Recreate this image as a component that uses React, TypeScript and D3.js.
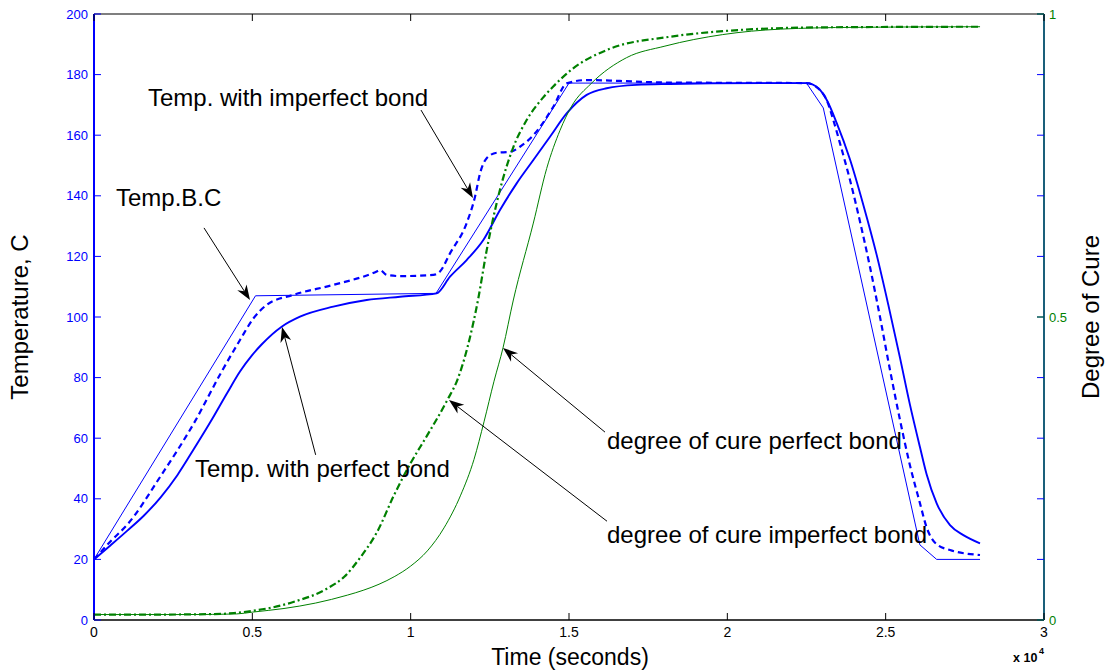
import React from "react";
import * as d3 from "d3";

// ---------- data ----------
const xTickValues = [0, 5000, 10000, 15000, 20000, 25000, 30000];
const xTickLabels = ["0", "0.5", "1", "1.5", "2", "2.5", "3"];
const tempTicks = [0, 20, 40, 60, 80, 100, 120, 140, 160, 180, 200];
const cureTicks = [0, 0.5, 1];
const cureTickLabels = ["0", "0.5", "1"];

// Temperature boundary condition (thin solid)
const bcTime = [0, 5100, 10800, 15000, 22500, 23030, 26080, 26610, 27980];
const bcTemp = [20, 107, 107.8, 177.2, 177.2, 169, 24.8, 20, 20];

// Temperature with perfect bond (solid)
const perfTime = [0, 526, 1053, 1579, 2105, 2632, 3158, 3684, 4210, 4610, 5000, 5300, 5926, 6505, 7557, 8610, 9663, 10821, 11242, 11768, 12295, 12821, 13347, 13874, 14400, 14926, 15558, 16190, 17137, 18190, 19500, 22500, 22875, 23140, 23455, 23874, 24295, 24716, 25084, 25453, 25768, 26084, 26295, 26611, 27032, 27453, 27979];
const perfTemp = [20, 24.7, 29.5, 34.5, 40.5, 47.8, 56.5, 65.5, 75, 82, 87.5, 91, 96.8, 100.1, 103.4, 105.6, 106.7, 107.8, 113.3, 118.8, 125.4, 135.3, 144.1, 151.8, 159.5, 167.2, 173.3, 175.5, 176.6, 176.9, 177.1, 177.2, 175.5, 171.6, 164, 152, 137, 120.5, 104, 86.5, 71, 57, 48, 38.5, 31.3, 28, 25.3];

// Temperature with imperfect bond (dashed)
const impTime = [0, 526, 1053, 2105, 3158, 4032, 4610, 5031, 5452, 6294, 7557, 8928, 9032, 9243, 9663, 10716, 10926, 11242, 11768, 12032, 12190, 12400, 12716, 13137, 13452, 13874, 14505, 14926, 15558, 16610, 18000, 22500, 22926, 23137, 23347, 23558, 23874, 24189, 24505, 24821, 25137, 25453, 25768, 26084, 26295, 26611, 27032, 27979];
const impTemp = [20, 26, 31.5, 47.5, 65, 82, 92.4, 99.5, 104, 107.3, 110.6, 115, 115.5, 113.9, 113.5, 113.9, 115, 121, 131, 139.7, 147.4, 152.4, 154.2, 154.5, 156.2, 160, 169.4, 177.1, 178.2, 177.9, 177.4, 177.2, 174.9, 171.6, 165, 157.3, 145.2, 131.5, 116.5, 100, 82.5, 66, 51, 38.5, 30.5, 25, 23.1, 21.45];

// Degree of cure, imperfect bond (dash-dot)
const cureImpTime = [0, 2000, 4000, 4500, 5000, 6316, 7368, 7895, 8421, 8947, 9474, 10000, 10526, 11158, 11473, 12126, 12400, 12820, 13240, 13663, 14180, 14495, 15100, 16310, 18130, 19937, 22960, 27980];
const cureImp = [0.009, 0.009, 0.01, 0.012, 0.015, 0.03, 0.052, 0.071, 0.104, 0.146, 0.206, 0.259, 0.305, 0.363, 0.396, 0.528, 0.61, 0.71, 0.78, 0.825, 0.862, 0.88, 0.909, 0.943, 0.962, 0.972, 0.978, 0.979];

// Degree of cure, perfect bond (thin solid)
const curePerfTime = [0, 3000, 4500, 5000, 6000, 7000, 8000, 8500, 9000, 9500, 10000, 10526, 11053, 11579, 12000, 12316, 12632, 12916, 13242, 13874, 14295, 14716, 15084, 15695, 16820, 18030, 19850, 21670, 24000, 27980];
const curePerf = [0.009, 0.009, 0.01, 0.013, 0.019, 0.028, 0.041, 0.049, 0.059, 0.072, 0.089, 0.114, 0.152, 0.206, 0.265, 0.327, 0.394, 0.449, 0.528, 0.655, 0.745, 0.808, 0.848, 0.885, 0.928, 0.947, 0.966, 0.975, 0.978, 0.979];

// Annotations (data coordinates)
const tempLabels = [
  { text: "Temp. with imperfect bond", t: 1705, v: 169.6 },
  { text: "Temp.B.C", t: 695, v: 136.6 },
  { text: "Temp. with perfect bond", t: 3190, v: 47.2 },
];
const cureLabels = [
  { text: "degree of cure perfect bond", t: 16200, v: 0.282 },
  { text: "degree of cure imperfect bond", t: 16200, v: 0.127 },
];
const tempArrows = [
  { t0: 10326, v0: 168.3, t1: 11968, v1: 139.3 },
  { t0: 3474, v0: 129.4, t1: 4926, v1: 105.6 },
  { t0: 7000, v0: 54.5, t1: 5937, v1: 96.7 },
];
const cureArrows = [
  { t0: 16137, v0: 0.31, t1: 12916, v1: 0.449 },
  { t0: 16200, v0: 0.163, t1: 11210, v1: 0.363 },
];

// ---------- layout ----------
const W = 1110;
const H = 671;
const L = 94;
const R = 1044;
const T = 14;
const B = 620;
const FONT = "'Liberation Sans', Arial, Helvetica, sans-serif";
const BLUE = "#0000ff";
const GREEN = "#008000";

const x = d3.scaleLinear().domain([0, 30000]).range([L, R]);
const yT = d3.scaleLinear().domain([0, 200]).range([B, T]);
const yC = d3.scaleLinear().domain([0, 1]).range([B, T]);

function series(ts: number[], vs: number[]) {
  return ts.map((t, i) => [t, vs[i]] as [number, number]);
}

const tempLine = (curve: d3.CurveFactory) =>
  d3.line<[number, number]>().x((d) => x(d[0])).y((d) => yT(d[1])).curve(curve);
const cureLine = d3
  .line<[number, number]>()
  .x((d) => x(d[0]))
  .y((d) => yC(d[1]))
  .curve(d3.curveMonotoneX);

function Arrow({ x0, y0, x1, y1 }: { x0: number; y0: number; x1: number; y1: number }) {
  const dx = x1 - x0;
  const dy = y1 - y0;
  const len = Math.sqrt(dx * dx + dy * dy);
  const ux = dx / len;
  const uy = dy / len;
  const nx = -uy;
  const ny = ux;
  const hl = 15;
  const hw = 5.5;
  const p1 = [x1 - hl * ux + hw * nx, y1 - hl * uy + hw * ny];
  const p2 = [x1 - hl * 0.7 * ux, y1 - hl * 0.7 * uy];
  const p3 = [x1 - hl * ux - hw * nx, y1 - hl * uy - hw * ny];
  return (
    <g>
      <line x1={x0} y1={y0} x2={p2[0]} y2={p2[1]} stroke="#000" strokeWidth={1} />
      <polygon
        points={`${x1},${y1} ${p1[0]},${p1[1]} ${p2[0]},${p2[1]} ${p3[0]},${p3[1]}`}
        fill="#000"
      />
    </g>
  );
}

export default function App() {
  const tick = 7;
  return (
    <svg
      width={W}
      height={H}
      style={{ position: "absolute", left: 0, top: 0, background: "#fff" }}
      fontFamily={FONT}
    >
      <rect x={0} y={0} width={W} height={H} fill="#fff" />

      {/* data lines */}
      <path d={tempLine(d3.curveLinear)(series(bcTime, bcTemp)) || ""} fill="none" stroke={BLUE} strokeWidth={1} />
      <path d={tempLine(d3.curveMonotoneX)(series(perfTime, perfTemp)) || ""} fill="none" stroke={BLUE} strokeWidth={1.9} />
      <path d={tempLine(d3.curveMonotoneX)(series(impTime, impTemp)) || ""} fill="none" stroke={BLUE} strokeWidth={2.2} strokeDasharray="6,4" />
      <path d={cureLine(series(curePerfTime, curePerf)) || ""} fill="none" stroke={GREEN} strokeWidth={1} />
      <path d={cureLine(series(cureImpTime, cureImp)) || ""} fill="none" stroke={GREEN} strokeWidth={2.2} strokeDasharray="7,3,2,3" />

      {/* frame */}
      <line x1={L} y1={T} x2={R} y2={T} stroke="#000" strokeWidth={1.2} />
      <line x1={L} y1={B} x2={R} y2={B} stroke="#000" strokeWidth={1.5} />
      <line x1={L} y1={T} x2={L} y2={B} stroke={BLUE} strokeWidth={2} />
      <line x1={R} y1={T} x2={R} y2={B} stroke="#1a5f7a" strokeWidth={2} />

      {/* x ticks */}
      {xTickValues.map((v, i) => (
        <g key={"x" + i}>
          <line x1={x(v)} y1={B} x2={x(v)} y2={B - tick} stroke="#000" />
          <line x1={x(v)} y1={T} x2={x(v)} y2={T + tick} stroke="#000" />
          <text x={x(v)} y={B + 17} textAnchor="middle" fontSize={14} fill="#000">
            {xTickLabels[i]}
          </text>
        </g>
      ))}
      <text x={1013} y={662} fontSize={12.5} fill="#000" fontWeight="bold">
        x 10
      </text>
      <text x={1039} y={654} fontSize={9} fill="#000" fontWeight="bold">
        4
      </text>

      {/* temperature ticks */}
      {tempTicks.map((v, i) => (
        <g key={"t" + i}>
          <line x1={L} y1={yT(v)} x2={L + tick} y2={yT(v)} stroke={BLUE} />
          <line x1={R} y1={yT(v)} x2={R - tick} y2={yT(v)} stroke={BLUE} />
          <text x={L - 6} y={yT(v)} dy="0.35em" textAnchor="end" fontSize={13} fill={BLUE}>
            {String(v)}
          </text>
        </g>
      ))}

      {/* cure ticks */}
      {cureTicks.map((v, i) => (
        <g key={"c" + i}>
          <line x1={R} y1={yC(v)} x2={R - tick} y2={yC(v)} stroke={GREEN} />
          <text x={R + 5} y={yC(v)} dy="0.35em" textAnchor="start" fontSize={13} fill={GREEN}>
            {cureTickLabels[i]}
          </text>
        </g>
      ))}

      {/* axis titles */}
      <text
        transform={`translate(28,${(T + B) / 2}) rotate(-90)`}
        textAnchor="middle"
        fontSize={24}
        fill="#000"
      >
        Temperature, C
      </text>
      <text
        transform={`translate(1099,${(T + B) / 2}) rotate(-90)`}
        textAnchor="middle"
        fontSize={24}
        fill="#000"
      >
        Degree of Cure
      </text>
      <text x={570} y={665} textAnchor="middle" fontSize={23} fill="#000">
        Time (seconds)
      </text>

      {/* annotations */}
      {tempLabels.map((a, i) => (
        <text key={"tl" + i} x={x(a.t)} y={yT(a.v)} fontSize={24} fill="#000">
          {a.text}
        </text>
      ))}
      {cureLabels.map((a, i) => (
        <text key={"cl" + i} x={x(a.t)} y={yC(a.v)} fontSize={24} fill="#000">
          {a.text}
        </text>
      ))}
      {tempArrows.map((a, i) => (
        <Arrow key={"ta" + i} x0={x(a.t0)} y0={yT(a.v0)} x1={x(a.t1)} y1={yT(a.v1)} />
      ))}
      {cureArrows.map((a, i) => (
        <Arrow key={"ca" + i} x0={x(a.t0)} y0={yC(a.v0)} x1={x(a.t1)} y1={yC(a.v1)} />
      ))}
    </svg>
  );
}
